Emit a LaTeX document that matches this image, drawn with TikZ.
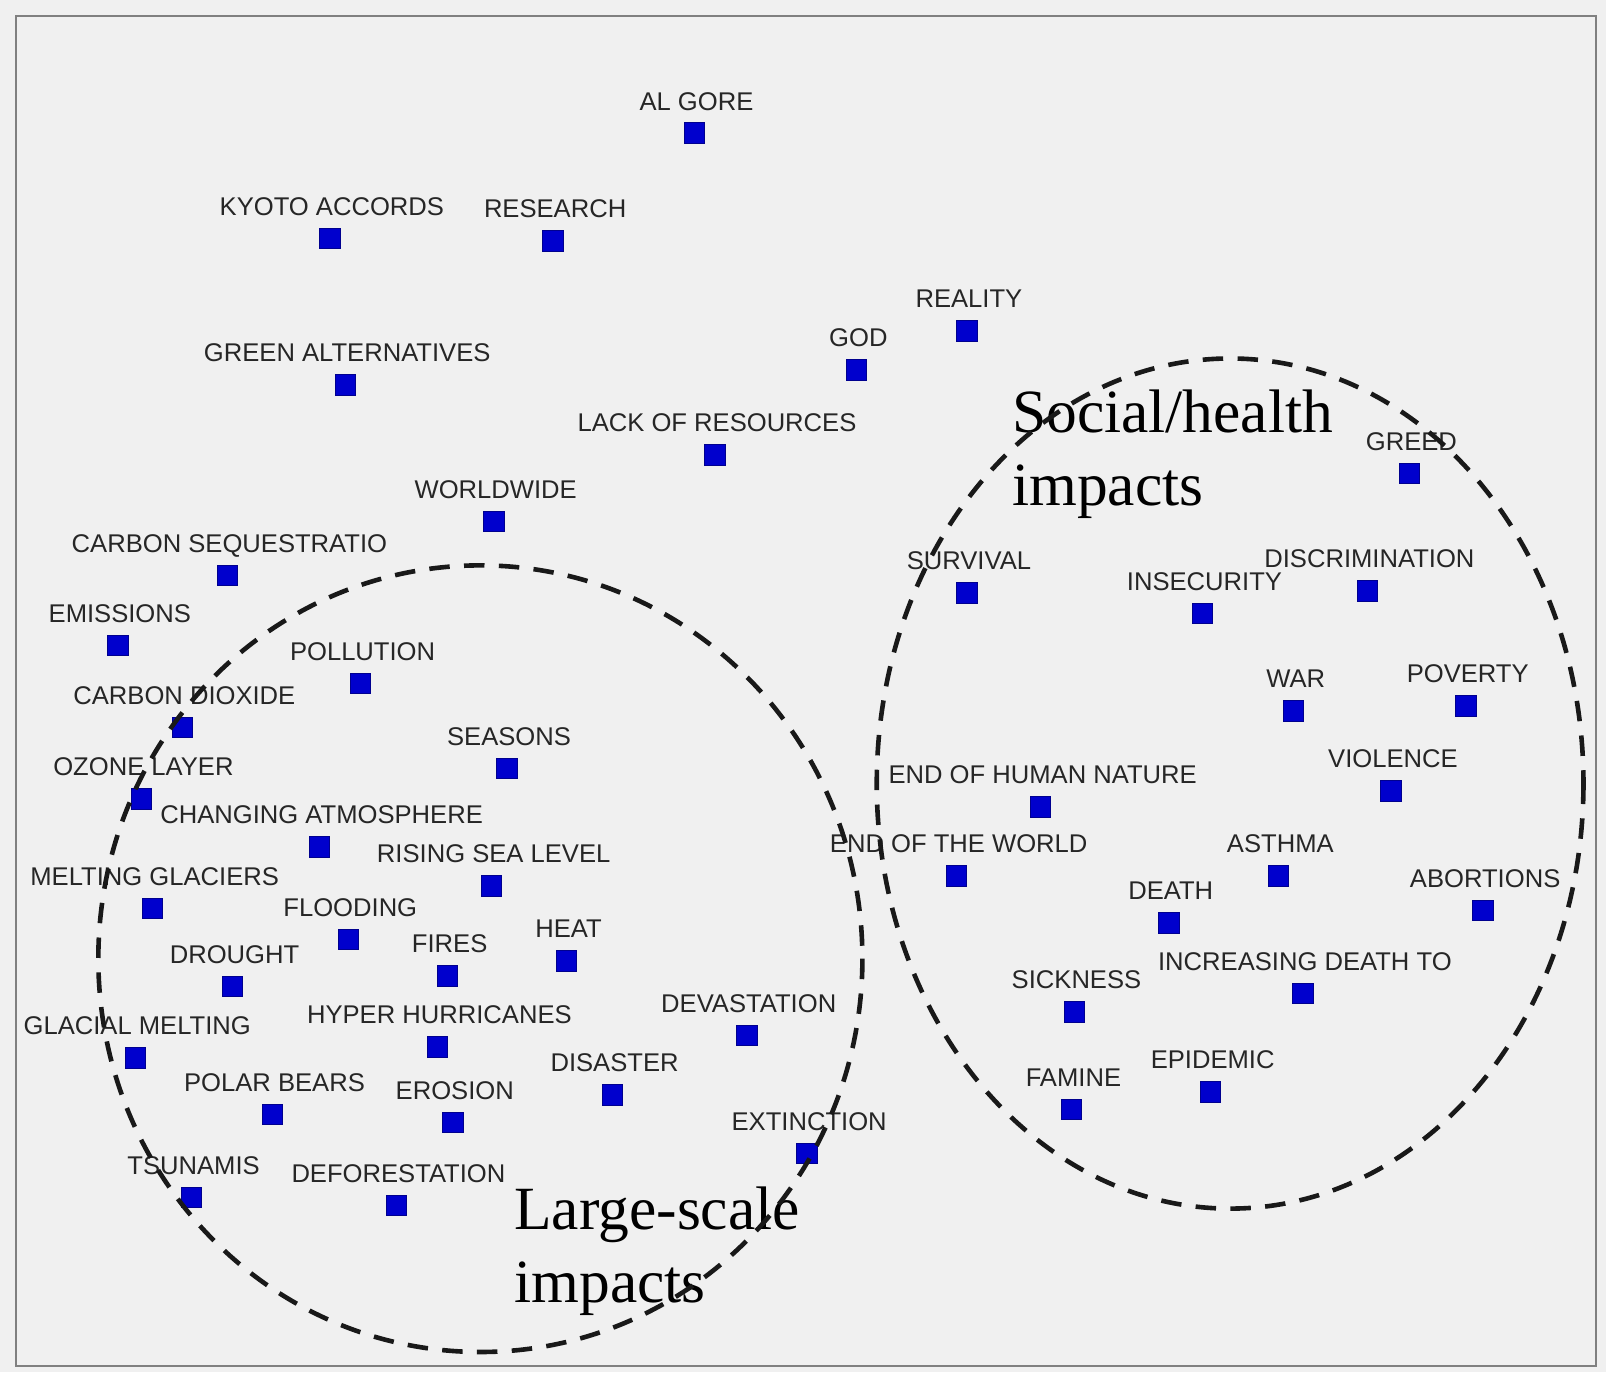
\documentclass[tikz,border=0pt]{standalone}
\usepackage{fontspec}
\setmainfont{Liberation Serif}
\setsansfont{Liberation Sans}
\usepackage{tikz}
\usetikzlibrary{positioning}

\definecolor{termblue}{RGB}{0,0,205}
\definecolor{plotbg}{RGB}{240,240,240}

\begin{document}
\begin{tikzpicture}[
    x=1pt, y=-1pt,
    term box/.style = {
        rectangle,
        draw=termblue!70!black,
        line width=0.8pt,
        fill=termblue,
        minimum size=20pt,
        inner sep=0pt
    },
    term text/.style = {
        above=12pt of #1,
        xshift=2pt,
        font=\sffamily\fontsize{25}{30}\selectfont,
        text=black!85,
        text depth=0pt,
        inner sep=0pt
    },
    impact text/.style = {
        anchor=base west,
        align=left,
        font=\fontsize{60}{72}\selectfont,
        inner sep=0pt
    },
    group ring/.style = {
        line width=4.5pt,
        dash pattern=on 20pt off 14pt,
        black!90
    }
]

\useasboundingbox (0,0) rectangle (1568,1340);
\fill[plotbg] (0,0) rectangle (1568,1340);
\draw[black!50, line width=2pt] (16,16) rectangle (1558,1334);

% terms
\node[term box] (gore) at (678,130) {};        \node[term text=gore] (gore-l) {AL GORE};
\node[term box] (kyoto) at (322,233) {};       \node[term text=kyoto] (kyoto-l) {KYOTO ACCORDS};
\node[term box] (research) at (540,235) {};    \node[term text=research] (research-l) {RESEARCH};
\node[term box] (reality) at (944,323) {};     \node[term text=reality] (reality-l) {REALITY};
\node[term box] (god) at (836,361) {};         \node[term text=god] (god-l) {GOD};
\node[term box] (green) at (337,376) {};       \node[term text=green] (green-l) {GREEN ALTERNATIVES};
\node[term box] (lack) at (698,444) {};        \node[term text=lack] (lack-l) {LACK OF RESOURCES};
\node[term box] (greed) at (1376,462) {};      \node[term text=greed] (greed-l) {GREED};
\node[term box] (worldwide) at (482,509) {};   \node[term text=worldwide] (worldwide-l) {WORLDWIDE};
\node[term box] (sequest) at (222,562) {};     \node[term text=sequest] (sequest-l) {CARBON SEQUESTRATIO};
\node[term box] (survival) at (944,579) {};    \node[term text=survival] (survival-l) {SURVIVAL};
\node[term box] (insecurity) at (1174,599) {}; \node[term text=insecurity] (insecurity-l) {INSECURITY};
\node[term box] (discrim) at (1335,577) {};    \node[term text=discrim] (discrim-l) {DISCRIMINATION};
\node[term box] (emissions) at (115,630) {};   \node[term text=emissions] (emissions-l) {EMISSIONS};
\node[term box] (pollution) at (352,667) {};   \node[term text=pollution] (pollution-l) {POLLUTION};
\node[term box] (dioxide) at (178,710) {};     \node[term text=dioxide] (dioxide-l) {CARBON DIOXIDE};
\node[term box] (war) at (1263,694) {};        \node[term text=war] (war-l) {WAR};
\node[term box] (poverty) at (1431,689) {};    \node[term text=poverty] (poverty-l) {POVERTY};
\node[term box] (seasons) at (495,750) {};     \node[term text=seasons] (seasons-l) {SEASONS};
\node[term box] (ozone) at (138,780) {};       \node[term text=ozone] (ozone-l) {OZONE LAYER};
\node[term box] (violence) at (1358,772) {};   \node[term text=violence] (violence-l) {VIOLENCE};
\node[term box] (humnat) at (1016,788) {};     \node[term text=humnat] (humnat-l) {END OF HUMAN NATURE};
\node[term box] (atmos) at (312,827) {};       \node[term text=atmos] (atmos-l) {CHANGING ATMOSPHERE};
\node[term box] (sealevel) at (480,865) {};    \node[term text=sealevel] (sealevel-l) {RISING SEA LEVEL};
\node[term box] (endworld) at (934,855) {};    \node[term text=endworld] (endworld-l) {END OF THE WORLD};
\node[term box] (asthma) at (1248,855) {};     \node[term text=asthma] (asthma-l) {ASTHMA};
\node[term box] (meltglac) at (149,887) {};    \node[term text=meltglac] (meltglac-l) {MELTING GLACIERS};
\node[term box] (abortions) at (1448,889) {};  \node[term text=abortions] (abortions-l) {ABORTIONS};
\node[term box] (death) at (1141,901) {};      \node[term text=death] (death-l) {DEATH};
\node[term box] (flooding) at (340,917) {};    \node[term text=flooding] (flooding-l) {FLOODING};
\node[term box] (fires) at (437,953) {};       \node[term text=fires] (fires-l) {FIRES};
\node[term box] (heat) at (553,938) {};        \node[term text=heat] (heat-l) {HEAT};
\node[term box] (drought) at (227,963) {};     \node[term text=drought] (drought-l) {DROUGHT};
\node[term box] (sickness) at (1049,988) {};   \node[term text=sickness] (sickness-l) {SICKNESS};
\node[term box] (deathto) at (1272,970) {};    \node[term text=deathto] (deathto-l) {INCREASING DEATH TO};
\node[term box] (devast) at (729,1011) {};     \node[term text=devast] (devast-l) {DEVASTATION};
\node[term box] (glacmelt) at (132,1033) {};   \node[term text=glacmelt] (glacmelt-l) {GLACIAL MELTING};
\node[term box] (hurric) at (427,1022) {};     \node[term text=hurric] (hurric-l) {HYPER HURRICANES};
\node[term box] (disaster) at (598,1069) {};   \node[term text=disaster] (disaster-l) {DISASTER};
\node[term box] (polar) at (266,1088) {};      \node[term text=polar] (polar-l) {POLAR BEARS};
\node[term box] (erosion) at (442,1096) {};    \node[term text=erosion] (erosion-l) {EROSION};
\node[term box] (epidemic) at (1182,1066) {};  \node[term text=epidemic] (epidemic-l) {EPIDEMIC};
\node[term box] (famine) at (1046,1083) {};    \node[term text=famine] (famine-l) {FAMINE};
\node[term box] (extinct) at (788,1126) {};    \node[term text=extinct] (extinct-l) {EXTINCTION};
\node[term box] (tsunamis) at (187,1169) {};   \node[term text=tsunamis] (tsunamis-l) {TSUNAMIS};
\node[term box] (deforest) at (387,1177) {};   \node[term text=deforest] (deforest-l) {DEFORESTATION};

% groups (base = last line)
\node[impact text] (social) at (988,494) {Social/health\\impacts};
\node[impact text] (large) at (502,1272) {Large-scale\\impacts};

\draw[group ring] (469,936) ellipse [x radius=373, y radius=384];
\draw[group ring] (1201,765) ellipse [x radius=345, y radius=415];

\end{tikzpicture}
\end{document}
